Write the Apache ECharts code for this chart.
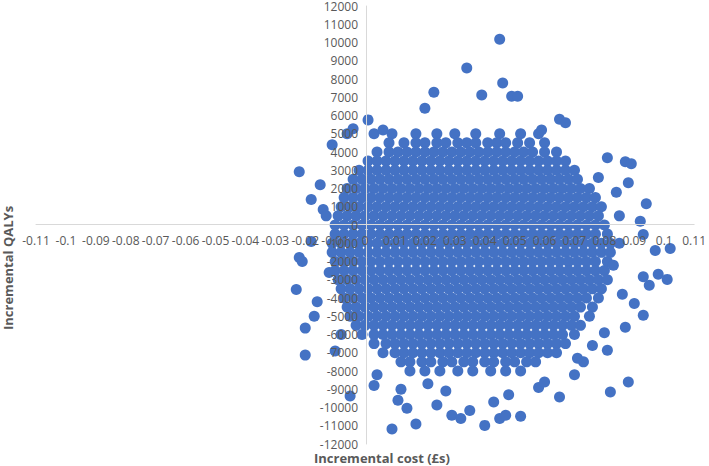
<!DOCTYPE html>
<html>
<head>
<meta charset="utf-8">
<script src="https://cdn.jsdelivr.net/npm/echarts@6/dist/echarts.min.js"></script>
<style>
  html, body { margin: 0; padding: 0; background: #fff; }
  #chart { width: 709px; height: 466px; }
</style>
</head>
<body>
<div id="chart"></div>
<script>
// Core cloud: QALY level and the costs (in thousandths) at that level
var rowQaly = [5000, 4500, 4000, 3500, 3000, 2500, 2000, 1500, 1000, 500, 0, -500, -1000, -1500, -2000, -2500,
  -3000, -3500, -4000, -4500, -5000, -5500, -6000, -6500, -7000, -7500, -8000];
var rowCost = [
  [-6, 3, 9, 17, 24, 30, 37, 45, 52, 58],
  [8, 13, 17, 20, 24, 27, 31, 34, 37, 41, 44, 47, 51, 55, 60],
  [4, 8, 11, 14, 17, 20, 23, 26, 29, 32, 35, 38, 41, 44, 47, 50, 53, 56, 60, 64],
  [1, 4, 7, 10, 13, 16, 19, 22, 25, 28, 31, 34, 37, 40, 43, 46, 49, 52, 55, 58, 61, 64, 67],
  [-2, 1, 4, 7, 10, 13, 16, 19, 22, 25, 28, 31, 34, 37, 40, 43, 46, 49, 52, 55, 58, 61, 64, 67, 70],
  [-4, -1, 2, 5, 8, 11, 14, 17, 20, 23, 26, 29, 32, 35, 38, 41, 44, 47, 50, 53, 56, 59, 62, 65, 68, 71],
  [-6, -3, 0, 3, 6, 9, 12, 15, 18, 21, 24, 27, 30, 33, 36, 39, 42, 45, 48, 51, 54, 57, 60, 63, 66, 69, 72, 75],
  [-7, -4, -1, 2, 5, 8, 11, 14, 17, 20, 23, 26, 29, 32, 35, 38, 41, 44, 47, 50, 53, 56, 59, 62, 65, 68, 71, 74, 77],
  [-8, -5, -2, 1, 4, 7, 10, 13, 16, 19, 22, 25, 28, 31, 34, 37, 40, 43, 46, 49, 52, 55, 58, 61, 64, 67, 70, 73, 76, 79],
  [-9, -6, -3, 0, 3, 6, 9, 12, 15, 18, 21, 24, 27, 30, 33, 36, 39, 42, 45, 48, 51, 54, 57, 60, 63, 66, 69, 72, 75, 78],
  [-10, -7, -4, -1, 2, 5, 8, 11, 14, 17, 20, 23, 26, 29, 32, 35, 38, 41, 44, 47, 50, 53, 56, 59, 62, 65, 68, 71, 74, 77, 80],
  [-10, -7, -4, -1, 2, 5, 8, 11, 14, 17, 20, 23, 26, 29, 32, 35, 38, 41, 44, 47, 50, 53, 56, 59, 62, 65, 68, 71, 74, 77, 81],
  [-11, -8, -5, -2, 1, 4, 7, 10, 13, 16, 19, 22, 25, 28, 31, 34, 37, 40, 43, 46, 49, 52, 55, 58, 61, 64, 67, 70, 73, 76, 79, 82],
  [-11, -8, -5, -2, 1, 4, 7, 10, 13, 16, 19, 22, 25, 28, 31, 34, 37, 40, 43, 46, 49, 52, 55, 58, 61, 64, 67, 70, 73, 76, 79, 82],
  [-10, -7, -4, -1, 2, 5, 8, 11, 14, 17, 20, 23, 26, 29, 32, 35, 38, 41, 44, 47, 50, 53, 56, 59, 62, 65, 68, 71, 74, 77, 81],
  [-10, -7, -4, -1, 2, 5, 8, 11, 14, 17, 20, 23, 26, 29, 32, 35, 38, 41, 44, 47, 50, 53, 56, 59, 62, 65, 68, 71, 74, 77, 80],
  [-9, -6, -3, 0, 3, 6, 9, 12, 15, 18, 21, 24, 27, 30, 33, 36, 39, 42, 45, 48, 51, 54, 57, 60, 63, 66, 69, 72, 75, 78, 81],
  [-8, -5, -2, 1, 4, 7, 10, 13, 16, 19, 22, 25, 28, 31, 34, 37, 40, 43, 46, 49, 52, 55, 58, 61, 64, 67, 70, 73, 76, 79],
  [-7, -4, -1, 2, 5, 8, 11, 14, 17, 20, 23, 26, 29, 32, 35, 38, 41, 44, 47, 50, 53, 56, 59, 62, 65, 68, 71, 74, 78],
  [-6, -3, 0, 3, 6, 9, 12, 15, 18, 21, 24, 27, 30, 33, 36, 39, 42, 45, 48, 51, 54, 57, 60, 63, 66, 69, 72, 76],
  [-5, -2, 1, 4, 7, 10, 13, 16, 19, 22, 25, 28, 31, 34, 37, 40, 43, 46, 49, 52, 55, 58, 61, 64, 67, 70, 75],
  [-3, 0, 3, 6, 9, 12, 15, 18, 21, 24, 27, 30, 33, 36, 39, 42, 45, 48, 51, 54, 57, 60, 63, 66, 69, 72],
  [-1, 3, 6, 9, 12, 15, 18, 21, 24, 27, 30, 33, 36, 39, 42, 45, 48, 51, 54, 57, 60, 63, 66, 70],
  [3, 7, 10, 13, 16, 19, 22, 25, 28, 31, 34, 37, 40, 43, 46, 49, 52, 55, 58, 61, 64, 67],
  [6, 10, 13, 16, 19, 22, 25, 28, 31, 34, 37, 40, 43, 46, 49, 52, 55, 58, 61, 64],
  [12, 15, 19, 22, 26, 29, 33, 36, 40, 43, 47, 50, 54, 57],
  [15, 20, 25, 31, 36, 42, 47, 52]
];
// Scattered points outside the core: cost, QALY
var outCost = [0.045, 0.034, 0.046, 0.023, 0.039, 0.049, 0.051, 0.001, -0.004, 0.065, 0.067, 0.059, 0.020,
  -0.022, -0.018, -0.014, 0.094, 0.088, 0.087, 0.089, 0.081, 0.102, 0.097, 0.101, 0.098, 0.093, 0.095, 0.093,
  -0.023, -0.022, -0.021, -0.020, -0.020, -0.005, 0.009, 0.017, 0.040, 0.045, 0.047, 0.052, 0.082, 0.088, 0.093,
  0.081, 0.065, 0.024, 0.014, 0.029, 0.032, 0.035, -0.012, -0.016, -0.008, 0.085, 0.084, 0.078, 0.090, 0.087,
  -0.015, -0.018, -0.013, 0.004, 0.012, 0.021, 0.048, 0.058, 0.073, 0.076, 0.070, 0.011, 0.027, 0.043, 0.085,
  -0.011, 0.006, -0.010, 0.083, 0.086, 0.080, -0.017, 0.092, 0.003, 0.060, 0.071];
var outQaly = [10180, 8600, 7780, 7280, 7120, 7050, 7050, 5760, 5270, 5800, 5600, 5200, 6400,
  2920, 1400, 850, 1170, 2320, 3470, 3360, 3680, -1290, -1400, -2980, -2700, -2830, -3300, -520,
  -3530, -1780, -2000, -7130, -5650, -9370, -11180, -10900, -10980, -10600, -10430, -10480, -9150, -8600, -4950,
  -6860, -9420, -9860, -10040, -10430, -10600, -10160, -2600, -4200, -6000, -1000, 1800, 2600, -4300, -5600,
  2200, -900, 500, -8200, -9000, -8700, -9300, -8900, -7500, -6600, -8200, -9600, -9100, -9700, 500,
  4400, 5200, -6900, -2200, -3800, -5900, -5000, 200, -8800, -8600, -7300];

var cloud = [];
rowQaly.forEach(function(q, i) {
  rowCost[i].forEach(function(c) { cloud.push([c / 1000, q]); });
});
outCost.forEach(function(c, i) { cloud.push([c, outQaly[i]]); });

var chart = echarts.init(document.getElementById('chart'), null, { renderer: 'svg' });
var labelFont = { color: '#595959', fontSize: 12, fontFamily: 'Open Sans' };
chart.setOption({
  animation: false,
  grid: { left: 36, right: 13, top: 5, bottom: 22, containLabel: false },
  xAxis: {
    type: 'value', min: -0.11, max: 0.11, interval: 0.01,
    offset: -220, z: 5,
    axisLine: { onZero: false, lineStyle: { color: '#d9d9d9' } },
    axisTick: { show: false },
    splitLine: { show: false },
    axisLabel: Object.assign({ margin: 10, formatter: function(v) { return String(+v.toFixed(2)); } }, labelFont)
  },
  yAxis: {
    type: 'value', min: -12000, max: 12000, interval: 1000,
    offset: -330, z: 5,
    axisLine: { show: true, onZero: false, lineStyle: { color: '#d9d9d9' } },
    axisTick: { show: false },
    splitLine: { show: false },
    axisLabel: Object.assign({ margin: 8, formatter: function(v) { return String(v); } }, labelFont)
  },
  graphic: [
    { type: 'text', left: 314, top: 451, style: { text: 'Incremental cost (£s)', fill: '#595959',
      font: 'bold 13px "Open Sans"' } },
    { type: 'text', x: 1, y: 330, rotation: Math.PI / 2, style: { text: 'Incremental QALYs', fill: '#595959',
      font: 'bold 13px "Open Sans"' } }
  ],
  series: [{
    type: 'scatter',
    z: 2,
    data: cloud,
    symbolSize: 11,
    itemStyle: { color: '#4472C4', opacity: 1 }
  }]
});
</script>
</body>
</html>
